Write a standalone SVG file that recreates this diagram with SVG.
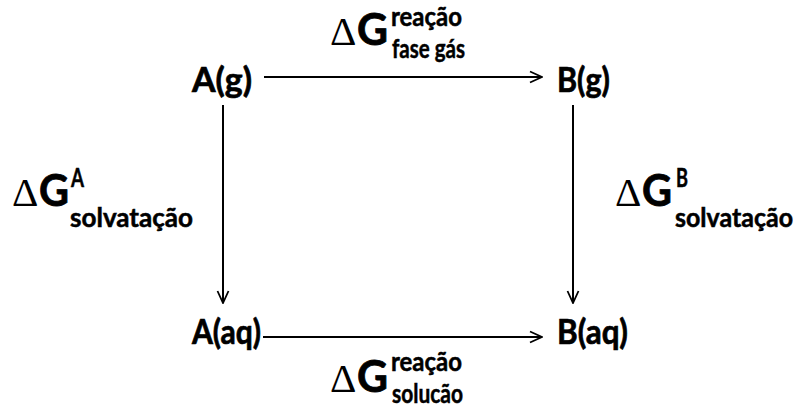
<svg xmlns="http://www.w3.org/2000/svg" width="801" height="408" viewBox="0 0 801 408">
<style>
.n{font-family:Lato,"Liberation Sans",sans-serif;font-weight:bold;font-size:35px;fill:#000;stroke:#000;stroke-width:0.7}
.d{font-family:"Liberation Serif",serif;font-size:41px;fill:#000}
.g{font-family:Lato,"Liberation Sans",sans-serif;font-weight:bold;font-size:43px;fill:#000;stroke:#000;stroke-width:0.8}
.s{font-family:Lato,"Liberation Sans",sans-serif;font-weight:bold;font-size:26px;fill:#000;stroke:#000;stroke-width:0.5}
.c{stroke:#000;stroke-width:2;fill:none}
</style>
<defs>
<marker id="ah" viewBox="0 0 14 14" refX="13" refY="7" markerWidth="14" markerHeight="14" markerUnits="userSpaceOnUse" orient="auto">
<path d="M1,1.5 L13,7 L1,12.5" fill="none" stroke="#000" stroke-width="1.8"/>
</marker>
</defs>
<rect width="801" height="408" fill="#fff"/>
<g id="connectors">
<line class="c" x1="264" y1="77" x2="542" y2="77" marker-end="url(#ah)"/>
<line class="c" x1="263" y1="337" x2="542" y2="337" marker-end="url(#ah)"/>
<line class="c" x1="223" y1="105" x2="223" y2="303" marker-end="url(#ah)"/>
<line class="c" x1="573" y1="105" x2="573" y2="303" marker-end="url(#ah)"/>
</g>
<g id="node-Ag"><text class="n" x="192" y="92" textLength="60" lengthAdjust="spacingAndGlyphs">A(g)</text></g>
<g id="node-Bg"><text class="n" x="557" y="92" textLength="53" lengthAdjust="spacingAndGlyphs">B(g)</text></g>
<g id="node-Aaq"><text class="n" x="192" y="344" textLength="69" lengthAdjust="spacingAndGlyphs">A(aq)</text></g>
<g id="node-Baq"><text class="n" x="557" y="344" textLength="71" lengthAdjust="spacingAndGlyphs">B(aq)</text></g>
<g id="label-top">
<text class="d" x="330" y="45">Δ</text>
<text class="g" x="357" y="45" textLength="31" lengthAdjust="spacingAndGlyphs">G</text>
<text class="s" x="391" y="26" textLength="71" lengthAdjust="spacingAndGlyphs">reação</text>
<text class="s" x="392" y="58" textLength="73" lengthAdjust="spacingAndGlyphs">fase gás</text>
</g>
<g id="label-left">
<text class="d" x="12" y="206">Δ</text>
<text class="g" x="39" y="206" textLength="30" lengthAdjust="spacingAndGlyphs">G</text>
<text class="s" x="71" y="187" textLength="13" lengthAdjust="spacingAndGlyphs">A</text>
<text class="s" x="70" y="227" textLength="123" lengthAdjust="spacingAndGlyphs">solvatação</text>
</g>
<g id="label-right">
<text class="d" x="615" y="206">Δ</text>
<text class="g" x="642" y="206" textLength="30" lengthAdjust="spacingAndGlyphs">G</text>
<text class="s" x="676" y="187" textLength="12" lengthAdjust="spacingAndGlyphs">B</text>
<text class="s" x="675" y="227" textLength="118" lengthAdjust="spacingAndGlyphs">solvatação</text>
</g>
<g id="label-bottom">
<text class="d" x="330" y="392">Δ</text>
<text class="g" x="357" y="392" textLength="31" lengthAdjust="spacingAndGlyphs">G</text>
<text class="s" x="391" y="371" textLength="71" lengthAdjust="spacingAndGlyphs">reação</text>
<text class="s" x="392" y="403" textLength="71" lengthAdjust="spacingAndGlyphs">solucão</text>
</g>
</svg>
